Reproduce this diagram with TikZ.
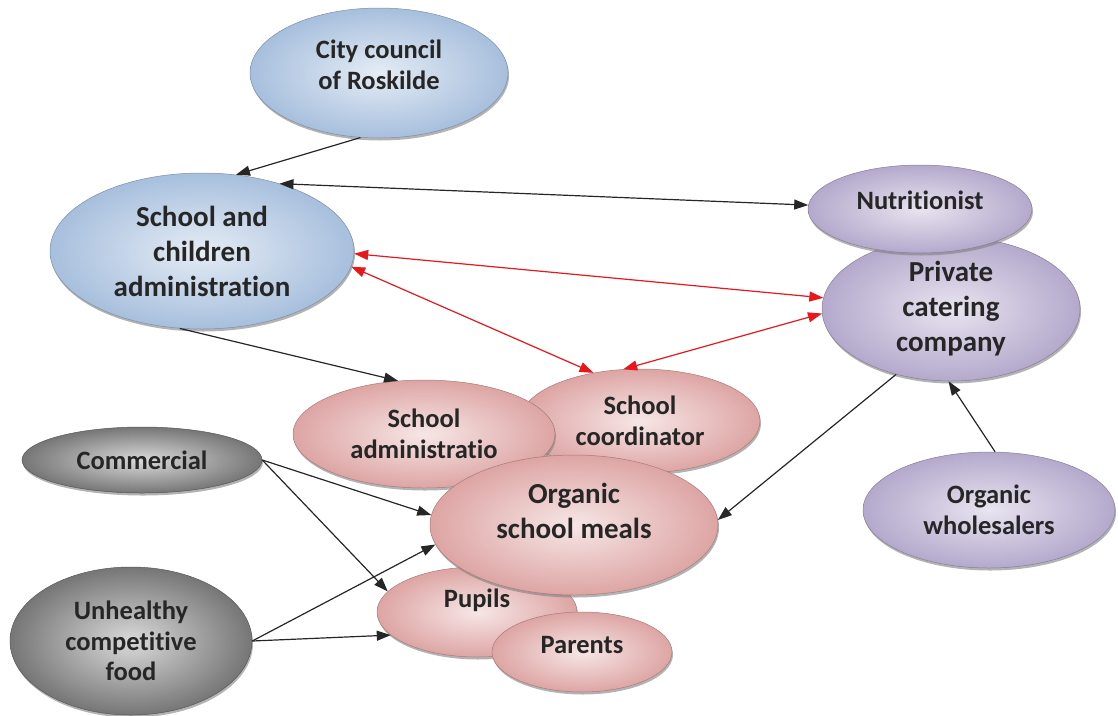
\documentclass[tikz,border=0pt]{standalone}
\usepackage{fontspec}
\setmainfont{Carlito}[Ligatures=NoCommon]
\usetikzlibrary{arrows.meta,shapes.geometric,shadows}
\definecolor{blueout}{HTML}{A7BFDD}
\definecolor{bluein}{HTML}{E5ECF5}
\definecolor{lilacout}{HTML}{B4A9CC}
\definecolor{lilacin}{HTML}{E8E4F0}
\definecolor{pinkout}{HTML}{DDA5A4}
\definecolor{pinkin}{HTML}{F7E6E6}
\definecolor{greyout}{HTML}{767676}
\definecolor{greyin}{HTML}{DADADA}
\definecolor{linkred}{HTML}{E8171C}
\newcommand{\bigtxt}{\fontsize{29}{35}\selectfont\bfseries}
\newcommand{\smalltxt}{\fontsize{26.5}{30.5}\selectfont\bfseries}

\begin{document}
\begin{tikzpicture}[x=1pt,y=-1pt,>={Triangle[length=14pt,width=10pt]},
ball/.style={ellipse,inner sep=0pt,align=center,text=black!85,font=\smalltxt,
  draw=#1out!75!black,line width=0.5pt,inner color=#1in,outer color=#1out,
  drop shadow={shadow xshift=1pt,shadow yshift=-2.5pt,opacity=0.6}},
balltext/.style={font=\smalltxt,align=center,text=black!85},
link/.style={line width=1.2pt,black!85},
redlink/.style={line width=1.2pt,linkred,<->}]
\useasboundingbox (0,0) rectangle (1118,715);
% administration side
\node[ball=blue,minimum width=258pt,minimum height=130pt,
  label={[balltext,yshift=8pt]center:City council\\of Roskilde}] (city) at (379,73) {};
\node[ball=blue,minimum width=304pt,minimum height=156pt,font=\bigtxt]
  (sca) at (202,251) {School and\\children\\administration};
% catering side
\node[ball=lilac,minimum width=258pt,minimum height=144pt,font=\bigtxt]
  (pcc) at (951,309) {Private\\catering\\company};
\node[ball=lilac,minimum width=224pt,minimum height=88pt,
  label={[balltext,yshift=9pt]center:Nutritionist}] (nutr) at (920,209) {};
\node[ball=lilac,minimum width=252pt,minimum height=116pt]
  (whole) at (989,510) {Organic\\wholesalers};
% school
\node[ball=pink,minimum width=240pt,minimum height=104pt]
  (coord) at (640,421) {School\\coordinator};
\node[ball=pink,minimum width=262pt,minimum height=108pt]
  (admin) at (424,434) {School\\administratio};
\node[ball=pink,minimum width=200pt,minimum height=90pt,
  label={[balltext,yshift=12pt]center:Pupils}] (pupils) at (477,612) {};
\node[ball=pink,minimum width=180pt,minimum height=80pt,
  label={[balltext,yshift=7pt]center:Parents}] (parents) at (582,652) {};
\node[ball=pink,minimum width=288pt,minimum height=140pt,
  label={[balltext,font=\bigtxt,yshift=14pt]center:Organic\\school meals}] (meals) at (574,525) {};
% competition
\node[ball=grey,minimum width=240pt,minimum height=66pt] (comm) at (142,460) {Commercial};
\node[ball=grey,minimum width=242pt,minimum height=148pt]
  (unh) at (131,641) {Unhealthy\\competitive\\food};
% links
\draw[link,->] (city.254) -- (sca.66);
\draw[link,<->] (sca.41) -- (nutr.178);
\draw[link,->] (sca.254) -- (admin.116);
\draw[redlink] (sca.359) -- (pcc.175);
\draw[redlink] (sca.354) -- (coord.134);
\draw[redlink] (coord.108) -- (pcc.182);
\draw[link,->] (pcc.230) -- (meals.2);
\draw[link,->] (whole.84) -- (pcc.268);
\draw[link,->] (comm.east) -- (meals.176);
\draw[link,->] (comm.east) -- (pupils.167);
\draw[link,->] (unh.east) -- (meals.188);
\draw[link,->] (unh.east) -- (pupils.195);
\end{tikzpicture}
\end{document}
